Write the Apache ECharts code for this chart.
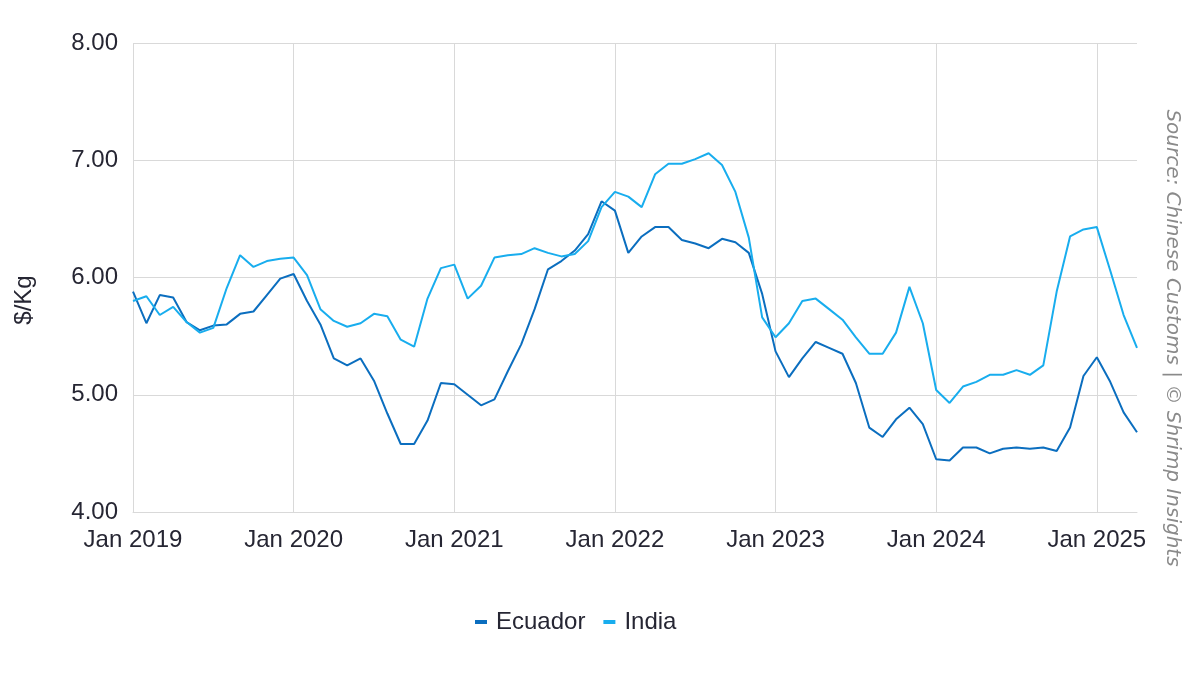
<!DOCTYPE html>
<html>
<head>
<meta charset="utf-8">
<script src="https://cdn.jsdelivr.net/npm/echarts@6/dist/echarts.min.js"></script>
<style>
  html, body { margin: 0; padding: 0; background: #fff; }
  #chart { width: 1200px; height: 675px; }
</style>
</head>
<body>
<div id="chart"></div>
<script>
// monthly import price, Jan 2019 .. Apr 2025
const monthNames = ['Jan', 'Feb', 'Mar', 'Apr', 'May', 'Jun', 'Jul', 'Aug', 'Sep', 'Oct', 'Nov', 'Dec']
const years = [2019, 2020, 2021, 2022, 2023, 2024, 2025]
const lastYearMonths = 4

const ecuador = [
  5.88, 5.61, 5.85, 5.83, 5.62, 5.55, 5.59, 5.60, 5.69, 5.71, 5.85, 5.99,
  6.03, 5.80, 5.60, 5.31, 5.25, 5.31, 5.12, 4.84, 4.58, 4.58, 4.78, 5.10,
  5.09, 5.00, 4.91, 4.96, 5.20, 5.43, 5.73, 6.07, 6.14, 6.23, 6.37, 6.65,
  6.57, 6.21, 6.35, 6.43, 6.43, 6.32, 6.29, 6.25, 6.33, 6.30, 6.21, 5.86,
  5.37, 5.15, 5.31, 5.45, 5.40, 5.35, 5.10, 4.72, 4.64, 4.79, 4.89, 4.75,
  4.45, 4.44, 4.55, 4.55, 4.50, 4.54, 4.55, 4.54, 4.55, 4.52, 4.72, 5.16,
  5.32, 5.11, 4.85, 4.68
]
const india = [
  5.80, 5.84, 5.68, 5.75, 5.62, 5.53, 5.57, 5.91, 6.19, 6.09, 6.14, 6.16,
  6.17, 6.02, 5.73, 5.63, 5.58, 5.61, 5.69, 5.67, 5.47, 5.41, 5.82, 6.08,
  6.11, 5.82, 5.93, 6.17, 6.19, 6.20, 6.25, 6.21, 6.18, 6.20, 6.31, 6.60,
  6.73, 6.69, 6.60, 6.88, 6.97, 6.97, 7.01, 7.06, 6.96, 6.73, 6.34, 5.66,
  5.49, 5.61, 5.80, 5.82, 5.73, 5.64, 5.49, 5.35, 5.35, 5.53, 5.92, 5.61,
  5.04, 4.93, 5.07, 5.11, 5.17, 5.17, 5.21, 5.17, 5.25, 5.88, 6.35, 6.41,
  6.43, 6.06, 5.68, 5.40
]

const categories = []
years.forEach((y, yi) => {
  const n = yi === years.length - 1 ? lastYearMonths : 12
  for (let m = 0; m < n; m++) categories.push(monthNames[m] + ' ' + y)
})

const fontFamily = '"Liberation Sans", Arial, sans-serif'
const textColor = '#262633'
const gridColor = '#d9d9d9'
const isJan = (i) => i % 12 === 0

const chart = echarts.init(document.getElementById('chart'))
const option = {
  animation: false,
  textStyle: { fontFamily },
  grid: { left: 133, right: 63, top: 43, bottom: 163, containLabel: false },
  legend: {
    bottom: 36,
    left: 470,
    itemWidth: 12,
    itemHeight: 4,
    itemGap: 18,
    icon: 'rect',
    textStyle: { fontSize: 24, color: textColor, fontFamily, padding: [0, 0, 0, 4] },
    data: ['Ecuador', 'India']
  },
  xAxis: {
    type: 'category',
    boundaryGap: false,
    data: categories,
    axisLine: { lineStyle: { color: gridColor } },
    axisTick: { show: false },
    axisLabel: { interval: isJan, fontSize: 24, color: textColor, margin: 16, fontFamily },
    splitLine: { show: true, interval: isJan, lineStyle: { color: gridColor, width: 1 } }
  },
  yAxis: {
    type: 'value',
    min: 4,
    max: 8,
    interval: 1,
    axisLine: { show: false },
    axisTick: { show: false },
    axisLabel: { fontSize: 24, color: textColor, margin: 15, formatter: (v) => v.toFixed(2), fontFamily },
    splitLine: { lineStyle: { color: gridColor, width: 1 } }
  },
  graphic: [
    {
      type: 'text',
      x: 24,
      y: 300,
      rotation: Math.PI / 2,
      style: {
        text: '$/Kg',
        fontSize: 24,
        fontFamily,
        fill: textColor,
        textAlign: 'center',
        textVerticalAlign: 'middle'
      }
    },
    {
      type: 'text',
      x: 1172,
      y: 338,
      rotation: -Math.PI / 2,
      style: {
        text: 'Source: Chinese Customs | © Shrimp Insights',
        fontSize: 20,
        fontStyle: 'italic',
        fontFamily: '"DejaVu Sans", sans-serif',
        fill: '#8a8a8a',
        textAlign: 'center',
        textVerticalAlign: 'middle'
      }
    }
  ],
  series: [
    {
      name: 'Ecuador',
      type: 'line',
      data: ecuador,
      showSymbol: false,
      symbol: 'none',
      color: '#0b6ebf',
      lineStyle: { width: 2, color: '#0b6ebf' }
    },
    {
      name: 'India',
      type: 'line',
      data: india,
      showSymbol: false,
      symbol: 'none',
      color: '#18adee',
      lineStyle: { width: 2, color: '#18adee' }
    }
  ]
}
chart.setOption(option)
</script>
</body>
</html>
